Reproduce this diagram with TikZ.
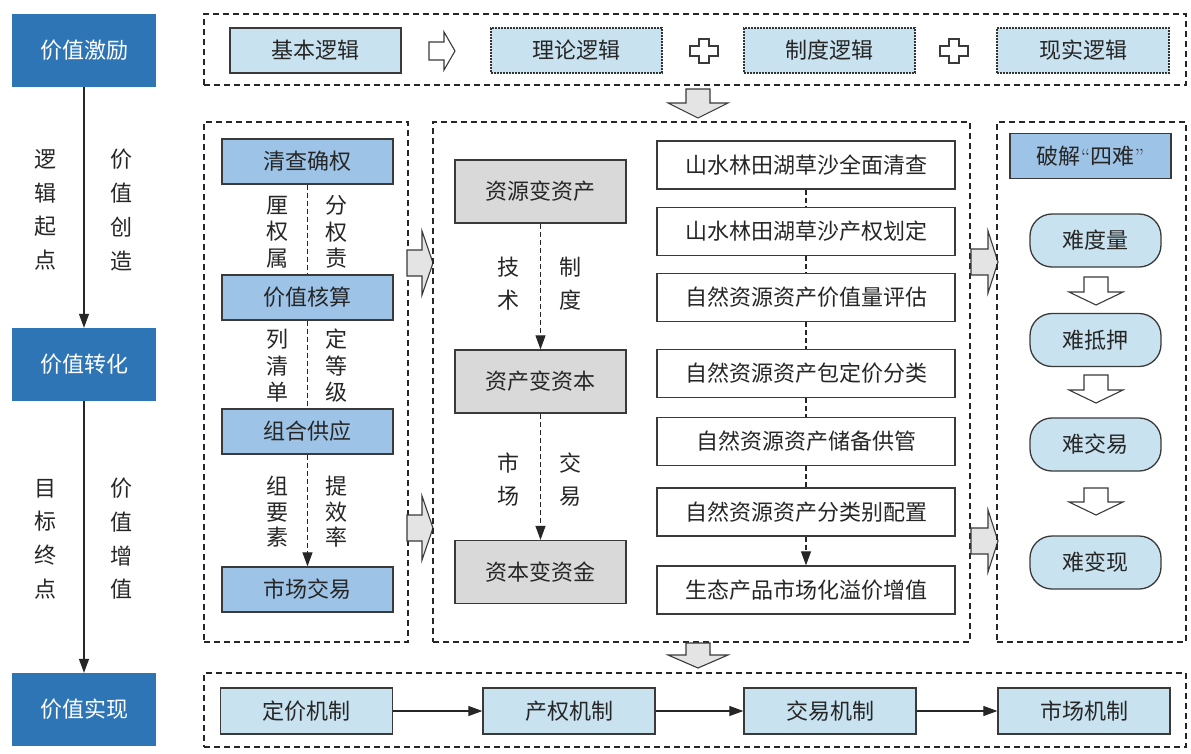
\documentclass[tikz,border=0pt]{standalone}
\usepackage{fontspec}
\newfontfamily\cjk{Noto Sans CJK SC}
\usetikzlibrary{arrows.meta}
\definecolor{dblue}{HTML}{2E75B6}
\definecolor{mblue}{HTML}{9DC3E6}
\definecolor{lblue}{HTML}{C8E2EF}
\definecolor{lgray}{HTML}{D9D9D9}
\definecolor{agray}{HTML}{E4E4E4}
\definecolor{edge}{HTML}{3A3A3A}
\begin{document}
\begin{tikzpicture}[x=1pt,y=-1pt,
  txt/.style={font=\cjk\fontsize{22}{22}\selectfont, text=black!85},
  base/.style={txt, inner sep=0pt, draw=edge, line width=1.3pt},
  dkbox/.style={inner sep=0pt, fill=dblue, draw=none, font=\cjk\fontsize{22}{22}\selectfont, text=white, minimum width=144, minimum height=73},
  midbox/.style={base, fill=mblue, minimum width=171, minimum height=45},
  litbox/.style={base, fill=lblue, minimum width=171, minimum height=45},
  dotbox/.style={base, fill=lblue, draw=black!80, line width=1.3pt, dash pattern=on 1.6pt off 1.4pt, minimum width=171, minimum height=45},
  graybox/.style={base, fill=lgray, minimum width=171, minimum height=63},
  whitebox/.style={base, fill=white, minimum width=298, minimum height=48},
  roundbox/.style={base, fill=lblue, rounded corners=22pt, minimum width=131, minimum height=53},
  group/.style={draw=black!85, line width=1.1pt, dash pattern=on 6pt off 4pt, inner sep=0pt},
  vlabel/.style={text=black!85, inner sep=0pt, align=center, font=\cjk\fontsize{22}{#1}\selectfont},
  blockarrow/.style={draw=edge, line width=1.1pt, fill=agray, line join=miter},
  hollow/.style={draw=edge, line width=1.1pt, fill=white, line join=miter},
  conn/.style={draw=black!85, line width=1.1pt},
  dconn/.style={draw=black!85, line width=1.1pt, dash pattern=on 5pt off 3pt},
  tip/.style={-{Triangle[length=14pt,width=10pt]}}
]
\useasboundingbox (0,0) rectangle (1191,753);
\fill[white] (0,0) rectangle (1191,753);

% ---------- left column ----------
\node[dkbox] (inc) at (84,50.5) {价值激励};
\node[dkbox] (tra) at (84,364.5) {价值转化};
\node[dkbox] (rea) at (84,709.5) {价值实现};
\draw[conn, tip] (inc.south) -- (tra.north);
\draw[conn, tip] (tra.south) -- (rea.north);
\node[vlabel=33.7pt] (l1) at (45,210) {逻\\辑\\起\\点};
\node[vlabel=33.7pt] (l2) at (121,210) {价\\值\\创\\造};
\node[vlabel=33.7pt] (l3) at (45,539) {目\\标\\终\\点};
\node[vlabel=33.7pt] (l4) at (121,539) {价\\值\\增\\值};

% ---------- top row ----------
\node[group, minimum width=982, minimum height=71] (topg) at (695,49.5) {};
\node[litbox] (jb) at (315.5,50.5) {基本逻辑};
\node[dotbox] (ll) at (576.5,50.5) {理论逻辑};
\node[dotbox] (zd) at (829.5,50.5) {制度逻辑};
\node[dotbox, minimum width=172] (xs) at (1083,50.5) {现实逻辑};
\draw[hollow] (429,42) -- (444,42) -- (444,32) -- (455,51) -- (444,70) -- (444,60) -- (429,60) -- cycle;
\foreach \cx in {704,954}{
  \draw[hollow, shift={(\cx,51)}] (-5,-12) -- (5,-12) -- (5,-5) -- (14,-5) -- (14,5) -- (5,5) -- (5,12) -- (-5,12) -- (-5,5) -- (-14,5) -- (-14,-5) -- (-5,-5) -- cycle;
}
\draw[blockarrow] (686,89) -- (710,89) -- (710,103) -- (728,103) -- (698,118) -- (668,103) -- (686,103) -- cycle;

% ---------- middle left group ----------
\node[group, minimum width=204, minimum height=520] (gl) at (306,382) {};
\node[midbox] (qc) at (307.5,161.5) {清查确权};
\node[midbox] (hs) at (307.5,297.5) {价值核算};
\node[midbox] (zh) at (307.5,431.5) {组合供应};
\node[midbox] (sc) at (307.5,589.5) {市场交易};
\draw[dconn] (qc.south) -- (hs.north);
\draw[dconn] (hs.south) -- (zh.north);
\draw[dconn, tip] (zh.south) -- (sc.north);
\node[vlabel=26.5pt] (a1) at (277,232) {厘\\权\\属};
\node[vlabel=26.5pt] (a2) at (336,232) {分\\权\\责};
\node[vlabel=26.5pt] (a3) at (277,366) {列\\清\\单};
\node[vlabel=26.5pt] (a4) at (336,366) {定\\等\\级};
\node[vlabel=25.5pt] (a5) at (277,512) {组\\要\\素};
\node[vlabel=25.5pt] (a6) at (336,512) {提\\效\\率};
\draw[blockarrow] (407,250) -- (422,250) -- (422,231) -- (433,263) -- (422,295) -- (422,276) -- (407,276) -- cycle;
\draw[blockarrow] (407,515) -- (422,515) -- (422,496) -- (433,528) -- (422,560) -- (422,541) -- (407,541) -- cycle;

% ---------- middle group ----------
\node[group, minimum width=537, minimum height=520] (gm) at (701.5,382) {};
\node[graybox] (g1) at (540.5,191.5) {资源变资产};
\node[graybox] (g2) at (540.5,381.5) {资产变资本};
\node[graybox] (g3) at (540.5,572) {资本变资金};
\draw[dconn, tip] (g1.south) -- (g2.north);
\draw[dconn, tip] (g2.south) -- (g3.north);
\node[vlabel=33pt] (b1) at (508,284) {技\\术};
\node[vlabel=33pt] (b2) at (570,284) {制\\度};
\node[vlabel=33pt] (b3) at (508,480) {市\\场};
\node[vlabel=33pt] (b4) at (570,480) {交\\易};
\node[whitebox] (w1) at (806,165) {山水林田湖草沙全面清查};
\node[whitebox] (w2) at (806,231.5) {山水林田湖草沙产权划定};
\node[whitebox] (w3) at (806,297.5) {自然资源资产价值量评估};
\node[whitebox] (w4) at (806,373.5) {自然资源资产包定价分类};
\node[whitebox] (w5) at (806,441.5) {自然资源资产储备供管};
\node[whitebox] (w6) at (806,512) {自然资源资产分类别配置};
\node[whitebox] (w7) at (806,590) {生态产品市场化溢价增值};
\draw[dconn] (w1.south) -- (w2.north);
\draw[dconn] (w2.south) -- (w3.north);
\draw[dconn] (w3.south) -- (w4.north);
\draw[dconn] (w4.south) -- (w5.north);
\draw[dconn] (w5.south) -- (w6.north);
\draw[dconn, tip] (w6.south) -- (w7.north);
\draw[blockarrow] (971,249) -- (988,249) -- (988,231) -- (998,262) -- (988,293) -- (988,275) -- (971,275) -- cycle;
\draw[blockarrow] (971,528) -- (988,528) -- (988,510) -- (998,541) -- (988,572) -- (988,554) -- (971,554) -- cycle;

% ---------- right group ----------
\node[group, minimum width=189, minimum height=520] (gr) at (1091.5,382) {};
\node[midbox, minimum width=161] (pj) at (1090.5,156) {破解{\rmfamily\fontsize{22}{22}\selectfont “}四难{\rmfamily\fontsize{22}{22}\selectfont ”}};
\node[roundbox] (r1) at (1095.5,240.5) {难度量};
\node[roundbox] (r2) at (1095.5,340) {难抵押};
\node[roundbox] (r3) at (1095.5,444.5) {难交易};
\node[roundbox] (r4) at (1095.5,562.5) {难变现};
\foreach \ya/\yb/\yc in {277/292/305, 375/390/403, 488/502/515}{
  \draw[hollow] (1084,\ya) -- (1108,\ya) -- (1108,\yb) -- (1123,\yb) -- (1096,\yc) -- (1069,\yb) -- (1084,\yb) -- cycle;
}

% ---------- bottom row ----------
\draw[blockarrow] (686,643) -- (710,643) -- (710,655) -- (728,655) -- (698,668) -- (668,655) -- (686,655) -- cycle;
\node[group, minimum width=982, minimum height=74] (botg) at (695,710) {};
\node[litbox, minimum width=172, minimum height=46] (m1) at (306.5,711) {定价机制};
\node[litbox, minimum width=172, minimum height=46] (m2) at (569,711) {产权机制};
\node[litbox, minimum width=172, minimum height=46] (m3) at (830,711) {交易机制};
\node[litbox, minimum width=172, minimum height=46] (m4) at (1084,711) {市场机制};
\draw[conn, tip] (m1.east) -- (m2.west);
\draw[conn, tip] (m2.east) -- (m3.west);
\draw[conn, tip] (m3.east) -- (m4.west);
\end{tikzpicture}
\end{document}
